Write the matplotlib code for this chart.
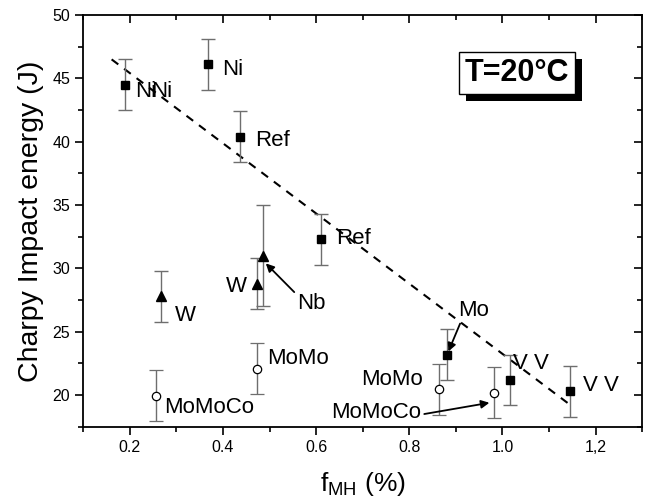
import matplotlib.pyplot as plt
import matplotlib.patheffects as pe

plt.rcParams['font.family'] = ['Liberation Sans', 'DejaVu Sans']
plt.rcParams['mathtext.default'] = 'regular'

# filled squares
sq_x = [0.189, 0.367, 0.437, 0.611, 0.882, 1.016, 1.145]
sq_y = [44.5, 46.1, 40.4, 32.3, 23.2, 21.2, 20.3]
sq_err = [2.0, 2.0, 2.0, 2.0, 2.0, 2.0, 2.0]

# filled triangles
tri_x = [0.268, 0.474, 0.485]
tri_y = [27.8, 28.8, 31.0]
tri_err = [2.0, 2.0, 4.0]

# open circles
circ_x = [0.257, 0.474, 0.864, 0.981]
circ_y = [19.95, 22.1, 20.45, 20.2]
circ_err = [2.0, 2.0, 2.0, 2.0]

# dashed trend line end points
fit_x = [0.161, 1.143]
fit_y = [46.5, 19.3]

fig = plt.figure(figsize=(6.5, 5.01), dpi=100)
ax = fig.add_axes([0.128, 0.148, 0.86, 0.822])

ebar = dict(ls='none', ecolor='#6e6e6e', elinewidth=1.0, capsize=5, capthick=1.0)
ax.errorbar(sq_x, sq_y, yerr=sq_err, marker='s', ms=5.5, mfc='k', mec='k', zorder=3, **ebar)
ax.errorbar(tri_x, tri_y, yerr=tri_err, marker='^', ms=7, mfc='k', mec='k', zorder=3, **ebar)
ax.errorbar(circ_x, circ_y, yerr=circ_err, marker='o', ms=6, mfc='white', mec='k', mew=0.9,
            zorder=3, **ebar)

line, = ax.plot(fit_x, fit_y, color='k', lw=1.5, zorder=2)
line.set_dashes((4, 3.5))

fs = 16
ax.text(0.211, 44.0, 'Ni', fontsize=fs, va='center')
ax.text(0.246, 44.0, 'Ni', fontsize=fs, va='center')
ax.text(0.398, 45.7, 'Ni', fontsize=fs, va='center')
ax.text(0.470, 40.1, 'Ref', fontsize=fs, va='center')
ax.text(0.642, 32.4, 'Ref', fontsize=fs, va='center')
ax.text(0.296, 26.3, 'W', fontsize=fs, va='center')
ax.text(0.407, 28.6, 'W', fontsize=fs, va='center')
ax.text(0.495, 22.9, 'MoMo', fontsize=fs, va='center')
ax.text(0.274, 19.0, 'MoMoCo', fontsize=fs, va='center')
ax.text(0.697, 21.2, 'MoMo', fontsize=fs, va='center')
ax.text(1.022, 22.5, 'V V', fontsize=fs, va='center')
ax.text(1.173, 20.8, 'V V', fontsize=fs, va='center')

arrow = dict(arrowstyle='-|>', color='k', lw=1.3, mutation_scale=12, shrinkA=0, shrinkB=0)
ax.annotate('Nb', xy=(0.492, 30.4), xytext=(0.559, 27.25), fontsize=fs, va='center',
            arrowprops=dict(arrow, relpos=(0.0, 0.9)))
ax.annotate('Mo', xy=(0.884, 23.45), xytext=(0.905, 26.7), fontsize=fs, va='center',
            arrowprops=dict(arrow, relpos=(0.1, 0.0)))
ax.annotate('MoMoCo', xy=(0.972, 19.4), xytext=(0.633, 18.64), fontsize=fs, va='center',
            arrowprops=dict(arrow, relpos=(1.0, 0.4)))

t = ax.text(0.776, 0.859, 'T=20°C', transform=ax.transAxes, fontsize=22, fontweight='bold',
            ha='center', va='center',
            bbox=dict(boxstyle='square,pad=0.2', fc='white', ec='k', lw=1.0))
t.get_bbox_patch().set_path_effects([
    pe.SimplePatchShadow(offset=(5, -5), shadow_rgbFace='k', alpha=1.0), pe.Normal()])

ax.set_xlim(0.1, 1.3)
ax.set_ylim(17.5, 50)
ax.set_xticks([0.2, 0.4, 0.6, 0.8, 1.0, 1.2])
ax.set_xticklabels(['0.2', '0.4', '0.6', '0.8', '1.0', '1,2'])
ax.set_xticks([0.1, 0.3, 0.5, 0.7, 0.9, 1.1, 1.3], minor=True)
ax.set_yticks([20, 25, 30, 35, 40, 45, 50])
ax.set_yticks([17.5, 22.5, 27.5, 32.5, 37.5, 42.5, 47.5], minor=True)

ax.tick_params(which='both', labelsize=11.5, width=1.2, top=True, right=True)
ax.tick_params(which='major', length=6)
ax.tick_params(which='minor', length=3.5)
ax.tick_params(axis='x', which='both', direction='out')
ax.tick_params(axis='y', which='both', direction='out')
# top and right ticks point inward
for tk in ax.xaxis.get_major_ticks() + ax.xaxis.get_minor_ticks():
    tk.tick2line.set_marker(3)
for tk in ax.yaxis.get_major_ticks() + ax.yaxis.get_minor_ticks():
    tk.tick2line.set_marker(0)
for s in ax.spines.values():
    s.set_linewidth(1.3)

ax.set_xlabel('f$_{MH}$ (%)', fontsize=19, labelpad=11)
ax.set_ylabel('Charpy Impact energy (J)', fontsize=20.5, labelpad=6)

fig.savefig('out.png', dpi=100)
